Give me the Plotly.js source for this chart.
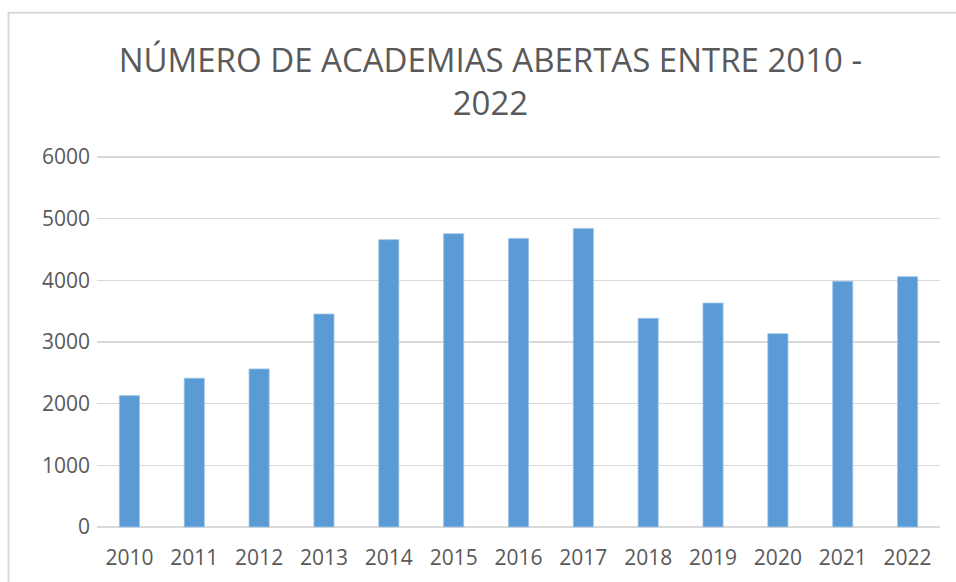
<!DOCTYPE html>
<html>
<head>
<meta charset="utf-8">
<script src="https://cdn.plot.ly/plotly-3.0.1.min.js"></script>
<style>html,body{margin:0;padding:0;background:#fff;}#chart{width:956px;height:582px;}</style>
</head>
<body>
<div id="chart"></div>
<script>
const years = ['2010','2011','2012','2013','2014','2015','2016','2017','2018','2019','2020','2021','2022'];
const academias = [2130, 2412, 2563, 3454, 4660, 4757, 4681, 4843, 3384, 3632, 3135, 3984, 4060];
const yTicks = [0, 1000, 2000, 3000, 4000, 5000, 6000];

const pad = 50;
const pxPerUnit = 370 / 6000;
const padPx = pad * pxPerUnit;

const trace = {
  type: 'bar',
  x: years,
  y: academias,
  marker: {color: '#5B9BD5', line: {color: '#9DC3E6', width: 0.8}},
  hoverinfo: 'x+y'
};

const layout = {
  width: 956, height: 582,
  margin: {l: 97, r: 16, t: 157 - padPx, b: 55 - padPx},
  paper_bgcolor: '#ffffff', plot_bgcolor: '#ffffff',
  bargap: 0.69,
  showlegend: false,
  font: {family: 'Open Sans, sans-serif', color: '#595959'},
  title: {
    text: 'NÚMERO DE ACADEMIAS ABERTAS ENTRE 2010 -<br>2022',
    font: {family: 'Open Sans, sans-serif', size: 33, color: '#595959'},
    x: 0.513, xanchor: 'center', yref: 'container', y: 1 - 72 / 582, yanchor: 'top'
  },
  xaxis: {
    type: 'category',
    tickfont: {size: 21, color: '#595959'},
    showgrid: false, zeroline: false, showline: false,
    ticks: '', ticklabelstandoff: 13
  },
  yaxis: {
    range: [-pad, 6000 + pad],
    tickvals: yTicks,
    ticktext: yTicks.map(String),
    tickfont: {size: 21, color: '#595959'},
    showgrid: true, gridcolor: '#D9D9D9', gridwidth: 1.3,
    zeroline: false, showline: false, ticks: '', ticklabelstandoff: 6
  },
  shapes: [{
    type: 'rect', xref: 'paper', yref: 'paper',
    x0: (8.5 - 97) / 843, x1: (970 - 97) / 843,
    y0: -0.2, y1: 1 + (157 - padPx - 12.7) / (370 + 2 * padPx),
    line: {color: '#D9D9D9', width: 2}, fillcolor: 'rgba(0,0,0,0)', layer: 'below'
  }]
};

Plotly.newPlot('chart', [trace], layout, {displayModeBar: false, staticPlot: true});
</script>
</body>
</html>
